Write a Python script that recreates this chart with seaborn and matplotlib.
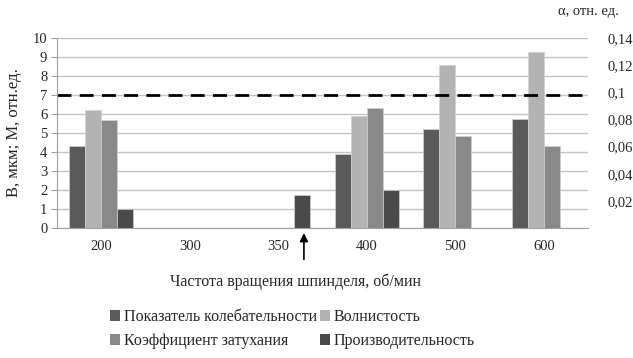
import numpy as np
import pandas as pd
import matplotlib
matplotlib.use("Agg")
import matplotlib.pyplot as plt
from matplotlib.patches import Patch
from matplotlib.ticker import FuncFormatter
import seaborn as sns

# data
speeds = ["200", "300", "350", "400", "500", "600"]
series = ["Показатель колебательности", "Волнистость",
          "Коэффициент затухания", "Производительность"]
oscillation = [4.3, np.nan, np.nan, 3.88, 5.2, 5.72]
waviness = [6.2, np.nan, np.nan, 5.9, 8.57, 9.28]
damping = [5.7, np.nan, np.nan, 6.3, 4.82, 4.32]
productivity = [1.0, np.nan, 1.75, 2.0, np.nan, np.nan]
threshold = 7
colors = ["#5a5a5a", "#b3b3b3", "#898989", "#4a4a4a"]

df = pd.DataFrame({
    "speed": speeds * 4,
    "series": np.repeat(series, len(speeds)),
    "value": oscillation + waviness + damping + productivity,
})

sns.set_style("white")
plt.rcParams["font.family"] = ["Liberation Serif", "DejaVu Serif"]

fig = plt.figure(figsize=(6.33, 3.58), dpi=100)
ax = fig.add_axes([57 / 633, 1 - 228 / 358, 531 / 633, 190 / 358])

sns.barplot(data=df, x="speed", y="value", hue="series", order=speeds,
            hue_order=series, palette=colors, width=0.72, ax=ax,
            edgecolor="#d0d0d0", linewidth=0.5, legend=False, saturation=1)

ax.set_ylim(0, 10)
ax.set_xlim(-0.5, len(speeds) - 0.5)
ax.set_yticks(range(0, 11))
ax.yaxis.grid(True, color="#c4c4c4", linewidth=1.0)
ax.set_axisbelow(True)
for s in ["top", "right"]:
    ax.spines[s].set_visible(False)
ax.spines["left"].set_color("#a0a0a0")
ax.spines["bottom"].set_color("#a0a0a0")
ax.tick_params(axis="y", length=4, color="#a0a0a0", labelsize=10.5, pad=3, left=True)
ax.tick_params(axis="x", length=0, labelsize=10.5, pad=9)
ax.set_xlabel("")
ax.set_ylabel("B, мкм; M, отн.ед.", fontsize=12, labelpad=8)

ax.axhline(threshold, color="black", linestyle=(0, (5, 3)), linewidth=2)

ax2 = ax.twinx()
ax2.set_ylim(0, 0.14)
ax2.set_yticks([0.02, 0.04, 0.06, 0.08, 0.1, 0.12, 0.14])
ax2.yaxis.set_major_formatter(FuncFormatter(lambda v, p: f"{v:g}".replace(".", ",")))
ax2.tick_params(axis="y", length=0, labelsize=10.5, pad=14)
for s in ax2.spines.values():
    s.set_visible(False)

fig.text(588 / 633, 1 - 12 / 358, "α, отн. ед.", ha="center", va="center", fontsize=10.5)

# arrow under 350
ax.annotate("", xy=(2.29, -0.12), xytext=(2.29, -1.8),
            xycoords="data", textcoords="data", annotation_clip=False,
            arrowprops=dict(arrowstyle="-|>", color="black", lw=1.2,
                            mutation_scale=12))

fig.text(296 / 633, 1 - 282 / 358, "Частота вращения шпинделя, об/мин",
         ha="center", va="center", fontsize=11.5)

# legend filled row by row: matplotlib fills columns first, so reorder
handles = [Patch(facecolor=c, edgecolor="none") for c in colors]
order = [0, 2, 1, 3]
fig.legend([handles[i] for i in order], [series[i] for i in order],
           ncol=2, loc="upper left",
           bbox_to_anchor=(110 / 633, 1 - 309 / 358), frameon=False,
           fontsize=11.5, handlelength=0.65, handleheight=0.65,
           handletextpad=0.2, columnspacing=0.2, labelspacing=0.5,
           borderpad=0, borderaxespad=0)

fig.savefig("out.png", dpi=100)
